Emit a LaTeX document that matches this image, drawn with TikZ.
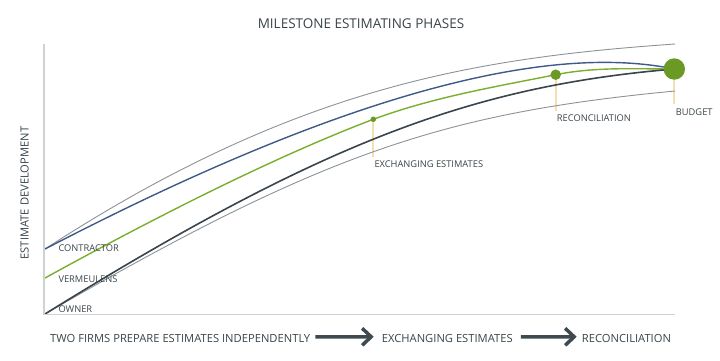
\documentclass[tikz,border=0pt]{standalone}
\usepackage{fontspec}
\setmainfont{Open Sans}
\usepackage{xcolor}
\usetikzlibrary{arrows.meta,positioning,backgrounds}
\definecolor{msink}{HTML}{3A4449}
\definecolor{msaxis}{HTML}{CFD2D3}
\definecolor{msgray}{HTML}{8C9296}
\definecolor{msblue}{HTML}{3E5A87}
\definecolor{msgreen}{HTML}{7AAE2C}
\definecolor{msdot}{HTML}{6A9A23}
\definecolor{msdark}{HTML}{39444C}
\definecolor{msstem}{HTML}{F4DFB2}
\definecolor{msarrow}{HTML}{3E4A50}
\tikzset{
  lbl/.style={font=\fontsize{9.3}{11}\selectfont, text=msink, inner sep=0pt},
  phase/.style={font=\fontsize{11.2}{13}\selectfont, text=msink, inner sep=0pt},
  axis/.style={draw=msaxis, line width=1.8pt},
  env/.style={draw=msgray, line width=0.9pt},
  bid/.style={line width=1.4pt},
  stem/.style={draw=msstem, line width=2pt},
  milestone/.style={circle, fill=msdot, inner sep=0pt},
  ar/.style={-{Straight Barb[length=9pt,width=17pt]}, draw=msarrow, line width=3.5pt},
}

\begin{document}
\begin{tikzpicture}[x=1pt,y=1pt]
\useasboundingbox (0,0) rectangle (720,-360);

% ---------- title and axes ----------
\node[font=\fontsize{13.5}{16}\selectfont, text=msink] (ttl) at (361,-24) {MILESTONE ESTIMATING PHASES};
\node[font=\fontsize{11.2}{13}\selectfont, text=msink, rotate=90] (ylab) at (24.5,-193) {ESTIMATE DEVELOPMENT};
\coordinate (org) at (44,-314.5);
\draw[axis] (44,-44) -- (org) -- (675,-314.5);

% ---------- milestones ----------
\node[milestone, minimum size=5.5pt] (dexch) at (373.3,-119.3) {};
\node[milestone, minimum size=10.5pt] (drec) at (555.7,-74.7) {};
\node[milestone, minimum size=21.4pt] (dbud) at (674.3,-69) {};
\node[lbl, anchor=base west] (lexch) at (374.3,-167.7) {EXCHANGING ESTIMATES};
\node[lbl, anchor=base west] (lrec) at (556.7,-121) {RECONCILIATION};
\node[lbl, anchor=base west] (lbud) at (675.7,-115) {BUDGET};

% ---------- parties ----------
\node[lbl, anchor=base west] (lcon) at (58.3,-251) {CONTRACTOR};
\node[lbl, anchor=base west] (lver) at (58.3,-282) {VERMEULENS};
\node[lbl, anchor=base west] (lown) at (58.3,-312.3) {OWNER};

% ---------- curves (behind the dots) ----------
\begin{scope}[on background layer]
\draw[stem] (dexch.center) -- ([yshift=4pt]dexch.center |- lexch.north);
\draw[stem] (drec.center) -- ([yshift=3.5pt]drec.center |- lrec.north);
\draw[stem] (dbud.center) -- ([yshift=4pt]dbud.center |- lbud.north);
% envelope
\draw[env] (45,-249) .. controls (295,-86.5) and (475,-58) .. (675,-44);
\draw[env] (45,-314) .. controls (325,-151.6) and (445,-113) .. (675,-91);
% estimates
\draw[bid, msblue] (45,-249) .. controls (295,-119) and (524.3,-38) .. (dbud.center);
\draw[bid, msgreen] (45,-278) .. controls (155,-217.5) and (273.3,-157.3) .. (dexch.center)
   .. controls (433.3,-97.1) and (495.7,-86.7) .. (drec.center)
   .. controls (595.7,-66.7) and (634,-69) .. (dbud.center);
\draw[bid, msdark, line width=1.6pt] (45,-314) .. controls (325,-140.4) and (474.3,-86) .. (dbud.center);
\end{scope}

% ---------- phases ----------
\node[phase, anchor=base west] (ph1) at (50,-342.3) {TWO FIRMS PREPARE ESTIMATES INDEPENDENTLY};
\node[phase, anchor=base west] (ph2) at (381.7,-342.3) {EXCHANGING ESTIMATES};
\node[phase, anchor=base west] (ph3) at (581.7,-342.3) {RECONCILIATION};
\draw[ar] ([xshift=5pt,yshift=1.5pt]ph1.east) -- ([xshift=-8pt,yshift=1.5pt]ph2.west);
\draw[ar] ([xshift=8pt,yshift=1.5pt]ph2.east) -- ([xshift=-5pt,yshift=1.5pt]ph3.west);
\end{tikzpicture}
\end{document}
